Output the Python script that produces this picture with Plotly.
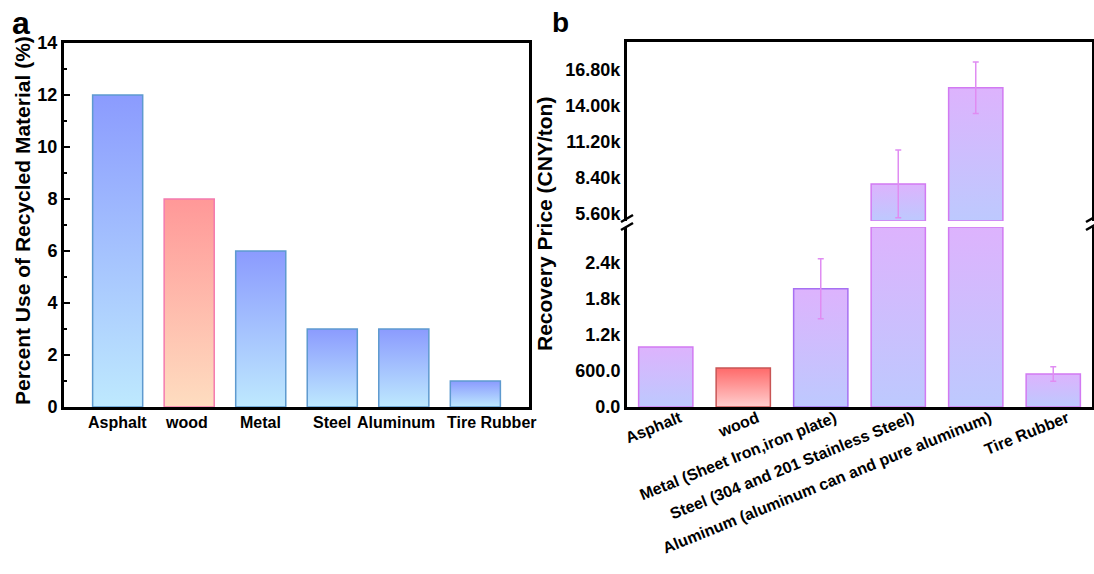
import plotly.graph_objects as go

# ---------------- data ----------------
cats_a = ["Asphalt", "wood", "Metal", "Steel", "Aluminum", "Tire Rubber"]
pct_a = [12, 8, 6, 3, 3, 1]

cats_b = ["Asphalt", "wood", "Metal (Sheet Iron,iron plate)",
          "Steel (304 and 201 Stainless Steel)",
          "Aluminum (aluminum can and pure aluminum)", "Tire Rubber"]
price_b = [1000, 650, 1970, 7900, 15420, 550]
err_b = [0, 0, 500, 2650, 2010, 120]

lower_ticks = [0, 600, 1200, 1800, 2400]
lower_ticktext = ["0.0", "600.0", "1.2k", "1.8k", "2.4k"]
upper_ticks = [5600, 8400, 11200, 14000, 16800]
upper_ticktext = ["5.60k", "8.40k", "11.20k", "14.00k", "16.80k"]

LOWER_RANGE = [0, 3000]
UPPER_RANGE = [5000, 19000]

# ---------------- styles ----------------
W, H = 1094, 574
FONT = "Liberation Sans, Arial, sans-serif"
BAR_W = 0.7
# horizontal nudges (px) for crowded category labels of panel a
label_shift_a = [0, -3, 0, 0, -8, 17]

style_a = {
    "blue": dict(bottom="#BEE9FE", top="#8B9BFE", line="#5E9ACF"),
    "wood": dict(bottom="#FEDDC0", top="#FF9898", line="#F47BAE"),
}
style_b = {
    "purple": dict(bottom="#BDC9FE", top="#DDB3FD", line="#D27AF2"),
    "metal": dict(bottom="#BDC9FE", top="#DDB3FD", line="#A770F2"),
    "wood": dict(bottom="#FFCFCF", top="#FF6A6A", line="#C85555"),
}
kind_a = ["blue", "wood", "blue", "blue", "blue", "blue"]
kind_b = ["purple", "wood", "metal", "purple", "purple", "purple"]


def px(x):
    return x / W


def py(y):
    return 1 - y / H


fig = go.Figure()


def add_bar(i, lo, hi, st, xa, ya):
    h = BAR_W / 2
    fig.add_trace(go.Scatter(
        x=[i - h, i + h, i + h, i - h, i - h],
        y=[lo, lo, hi, hi, lo],
        mode="lines", fill="toself",
        fillgradient=dict(type="vertical",
                          colorscale=[[0, st["bottom"]], [1, st["top"]]],
                          start=lo, stop=hi),
        line=dict(color=st["line"], width=1.5),
        xaxis=xa, yaxis=ya, showlegend=False, hoverinfo="skip"))


# panel a bars
for i, v in enumerate(pct_a):
    add_bar(i, 0, v, style_a[kind_a[i]], "x", "y")

# panel b bars (broken axis: lower and upper segments)
for i, v in enumerate(price_b):
    st = style_b[kind_b[i]]
    add_bar(i, LOWER_RANGE[0], min(v, LOWER_RANGE[1]), st, "x2", "y2")
    if v > UPPER_RANGE[0]:
        add_bar(i, UPPER_RANGE[0], v, st, "x3", "y3")

# error bars
idx_lo = [i for i, v in enumerate(price_b) if v <= LOWER_RANGE[1] and err_b[i] > 0]
idx_hi = [i for i, v in enumerate(price_b) if v > UPPER_RANGE[0] and err_b[i] > 0]
for idx, xa, ya in [(idx_lo, "x2", "y2"), (idx_hi, "x3", "y3")]:
    fig.add_trace(go.Scatter(
        x=idx, y=[price_b[i] for i in idx], mode="markers",
        marker=dict(size=1, color="rgba(0,0,0,0)"),
        error_y=dict(type="data", array=[err_b[i] for i in idx],
                     color="#E08CF2", thickness=1.5, width=3),
        xaxis=xa, yaxis=ya, showlegend=False, hoverinfo="skip"))

tickfont_y = dict(family=FONT, size=18, color="black", weight="bold")
tickfont_x = dict(family=FONT, size=16, color="black", weight="bold")
axis_line = dict(showline=True, linecolor="black", linewidth=3,
                 showgrid=False, zeroline=False, automargin=False)

fig.update_layout(
    width=W, height=H, margin=dict(l=0, r=0, t=0, b=0, autoexpand=False),
    paper_bgcolor="white", plot_bgcolor="rgba(0,0,0,0)",
    xaxis=dict(domain=[px(64), px(529)], range=[-0.75, 5.75], anchor="y",
               showticklabels=False, ticks="", mirror=True, **axis_line),
    yaxis=dict(domain=[py(407), py(43)], range=[0, 14], anchor="x",
               dtick=2, ticks="inside", ticklen=6, tickwidth=2, tickcolor="black",
               minor=dict(dtick=1, ticks="inside", ticklen=3, tickwidth=2,
                          tickcolor="black"),
               mirror=True, tickfont=tickfont_y, **axis_line),
    xaxis2=dict(domain=[px(627), px(1092)], range=[-0.5, 5.5], anchor="y2",
                tickmode="array", tickvals=list(range(len(cats_b))), ticktext=cats_b,
                tickangle=-22, ticks="", tickfont=tickfont_x,
                ticklabelshift=14, ticklabelstandoff=-7, **axis_line),
    yaxis2=dict(domain=[py(407), py(227)], range=LOWER_RANGE, anchor="x2",
                tickmode="array", tickvals=lower_ticks, ticktext=lower_ticktext,
                ticks="", mirror=True, tickfont=tickfont_y, **axis_line),
    xaxis3=dict(domain=[px(627), px(1092)], range=[-0.5, 5.5], anchor="y3",
                side="top", showticklabels=False, ticks="", **axis_line),
    yaxis3=dict(domain=[py(221), py(42)], range=UPPER_RANGE, anchor="x3",
                tickmode="array", tickvals=upper_ticks, ticktext=upper_ticktext,
                ticks="", mirror=True, tickfont=tickfont_y, **axis_line),
)

# category labels of panel a, placed on the category axis positions
for i, c in enumerate(cats_a):
    fig.add_annotation(text=c, x=i, y=0, xref="x", yref="y", showarrow=False,
                       xanchor="center", yanchor="top", yshift=-5,
                       xshift=label_shift_a[i], font=tickfont_x)

title_font = dict(family=FONT, size=21, color="black", weight="bold")
fig.add_annotation(text="Percent Use of Recycled Material (%)", textangle=-90,
                   x=px(22), y=py(221), xref="paper", yref="paper",
                   showarrow=False, font=title_font, xanchor="center", yanchor="middle")
fig.add_annotation(text="Recovery Price (CNY/ton)", textangle=-90,
                   x=px(544), y=py(224), xref="paper", yref="paper",
                   showarrow=False, font=title_font, xanchor="center", yanchor="middle")
fig.add_annotation(text="a", x=px(21), y=py(23), xref="paper", yref="paper",
                   showarrow=False, xanchor="center", yanchor="middle",
                   font=dict(family=FONT, size=32, color="black", weight="bold"))
fig.add_annotation(text="b", x=px(560), y=py(22), xref="paper", yref="paper",
                   showarrow=False, xanchor="center", yanchor="middle",
                   font=dict(family=FONT, size=28, color="black", weight="bold"))

# axis-break marks
for xc in (627, 1092):
    for yo in (0, 8):
        fig.add_shape(type="line", xref="paper", yref="paper",
                      x0=px(xc - 6), y0=py(222 + yo), x1=px(xc + 6), y1=py(215 + yo),
                      line=dict(color="black", width=2.5))

fig.write_html("out.html")
